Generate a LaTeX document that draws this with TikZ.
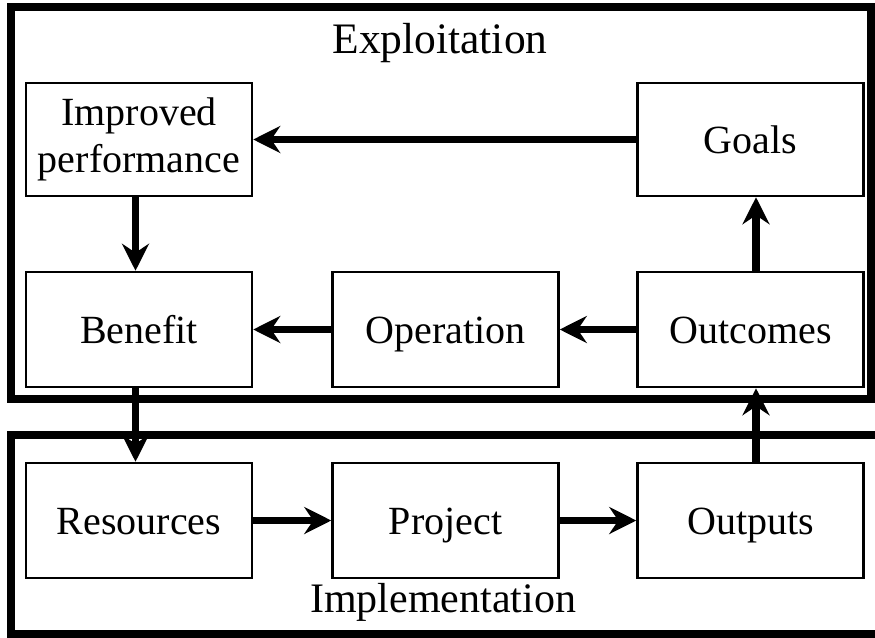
\documentclass[tikz,border=0pt]{standalone}
\usepackage{fontspec}
\setmainfont{Liberation Serif}
\usetikzlibrary{arrows.meta}

\tikzset{
  frame/.style={line width=8pt, line join=miter},
  stagebox/.style={draw, line width=2.5pt, inner sep=0pt, align=center,
    minimum width=226pt, font=\fontsize{40}{47}\selectfont},
  oneline/.style={text height=32pt, text depth=4pt},
  flow/.style={line width=7.5pt,
    -{Stealth[length=27pt, width=27pt, inset=9pt]}},
  title/.style={font=\fontsize{42}{48}\selectfont}
}

\begin{document}
\begin{tikzpicture}[x=1pt, y=-1pt]
  \useasboundingbox (0,0) rectangle (875,637);

  % Exploitation frame (closed) and implementation frame (open to the right)
  \draw[frame] (11,7) rectangle (871,399);
  \draw[frame] (880,435) -- (11,435) -- (11,634) -- (880,634);
  \node[title, font=\fontsize{43.5}{48}\selectfont] (exptitle) at (440,43) {Exploitation};
  \node[title] (imptitle) at (443,602) {Implementation};

  % Stage boxes
  \node[stagebox, minimum height=113pt] (imp) at (139,139.5) {Improved\\performance};
  \node[stagebox, oneline, minimum height=113pt] (goals) at (750.5,139.5) {Goals};
  \node[stagebox, oneline, minimum height=115pt] (ben) at (139,329.5) {Benefit};
  \node[stagebox, oneline, minimum height=115pt] (oper) at (445.5,329.5) {Operation};
  \node[stagebox, oneline, minimum height=115pt] (outc) at (750.5,329.5) {Outcomes};
  \node[stagebox, oneline, minimum height=115pt] (res) at (139,520.5) {Resources};
  \node[stagebox, oneline, minimum height=115pt] (proj) at (445.5,520.5) {Project};
  \node[stagebox, oneline, minimum height=115pt] (outp) at (750.5,520.5) {Outputs};

  % Flow connectors
  \draw[flow] (goals) -- (imp);
  \draw[flow] ([xshift=-3.5pt]imp.south) -- ([xshift=-3.5pt]ben.north);
  \draw[flow] (outc) -- (oper);
  \draw[flow] (oper) -- (ben);
  \draw[flow] ([xshift=5.5pt]outc.north) -- ([xshift=5.5pt]goals.south);
  \draw[flow] ([xshift=-3.5pt]ben.south) -- ([xshift=-3.5pt]res.north);
  \draw[flow] (res) -- (proj);
  \draw[flow] (proj) -- (outp);
  \draw[flow] ([xshift=5.5pt]outp.north) -- ([xshift=5.5pt]outc.south);
\end{tikzpicture}
\end{document}
